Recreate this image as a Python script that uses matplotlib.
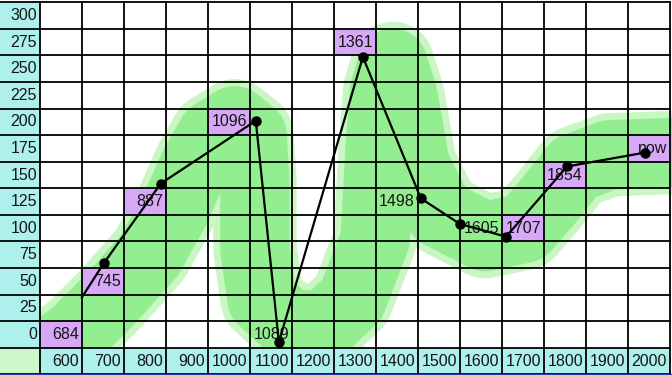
import matplotlib
matplotlib.use("Agg")
import matplotlib.pyplot as plt
from matplotlib import font_manager
from matplotlib.patches import Rectangle

# ---------------- data ----------------
x_labels = [600, 700, 800, 900, 1000, 1100, 1200, 1300, 1400, 1500, 1600, 1700, 1800, 1900, 2000]
y_labels = [0, 25, 50, 75, 100, 125, 150, 175, 200, 225, 250, 275, 300]

line_x = [650, 702, 838, 1064, 1119, 1319, 1457, 1550, 1660, 1805, 1990]
line_y = [35, 67, 142, 201, -7, 261, 128, 104, 92, 158, 171]
line_marked = [False, True, True, True, True, True, True, True, True, True, True]

cell_text = ['684', '745', '887', '1096', '1089', '1361', '1498', '1605', '1707', '1854', 'now']
cell_col = [600, 700, 800, 1000, 1100, 1300, 1400, 1600, 1700, 1800, 2000]
cell_row = [0, 50, 125, 200, 0, 275, 125, 100, 100, 150, 175]
cell_purple = [True, True, True, True, False, True, False, False, True, True, True]

band_x = [431, 526, 633, 717, 812, 871, 919, 960, 1014, 1055, 1062, 1062, 1079, 1145, 1229,
          1293, 1348, 1360, 1371, 1390, 1414, 1443, 1502, 1610, 1705, 1764, 1824, 1907, 2121]
band_y = [-61, -31, 0, 33, 75, 117, 160, 188, 201, 188, 145, 80, 33, 9, 9,
          33, 89, 174, 230, 255, 225, 160, 114, 92, 100, 127, 157, 169, 172]

# ---------------- style ----------------
names = {f.name for f in font_manager.fontManager.ttflist}
fam, fsize = 'Liberation Sans', 11.5
for cand, sz in [('Liberation Sans Narrow', 12.5), ('DejaVu Sans Condensed', 11.5)]:
    if cand in names:
        fam, fsize = cand, sz
        break
plt.rcParams['font.family'] = [fam, 'DejaVu Sans']

CYAN = '#adf0ec'
PURPLE = '#d6a8f5'
GREEN = '#92ee8e'
LGREEN = '#c9f6c3'
TXT = '#151515'

fig = plt.figure(figsize=(6.72, 3.75), dpi=100)
ax = fig.add_axes([0, 0, 1, 1])
ax.set_xlim(455, 2055)
ax.set_ylim(-38, 314.5)
ax.axis('off')

# green brush band
ax.plot(band_x, band_y, color=LGREEN, lw=60, solid_capstyle='round',
        solid_joinstyle='round', zorder=1)
ax.plot(band_x, band_y, color=GREEN, lw=50, solid_capstyle='round',
        solid_joinstyle='round', zorder=1.1)

# corner cell: band shows faintly
ax.add_patch(Rectangle((455, -37.5), 95, 25, facecolor='white', alpha=0.55,
                       edgecolor='none', zorder=1.5))

# label column / row cells
for v in y_labels:
    ax.add_patch(Rectangle((455, v - 12.5), 95, 25, facecolor=CYAN, edgecolor='none', zorder=2))
    ax.text(543, v, str(v), ha='right', va='center', fontsize=fsize, color=TXT, zorder=5)
for xv in x_labels:
    ax.add_patch(Rectangle((xv - 50, -37.5), 100, 25, facecolor=CYAN, edgecolor='none', zorder=2))
    ax.text(xv + 43, -25, str(xv), ha='right', va='center', fontsize=fsize, color=TXT, zorder=5)

# highlighted cells and cell labels
for t, c, r, p in zip(cell_text, cell_col, cell_row, cell_purple):
    if p:
        ax.add_patch(Rectangle((c - 50, r - 12.5), 100, 25, facecolor=PURPLE,
                               edgecolor='none', zorder=2))
    ax.text(c + 43, r, t, ha='right', va='center', fontsize=fsize, color=TXT, zorder=5)

# grid
for k in range(16):
    ax.plot([550 + 100 * k] * 2, [-37.5, 312.5], color='black', lw=1.3, zorder=3)
for k in range(15):
    ax.plot([455, 2050], [-37.5 + 25 * k] * 2, color='black', lw=1.3, zorder=3)
ax.plot([455, 2055], [-37.9, -37.9], color='#1f3f9f', lw=2.5, zorder=3)

# black line with markers
ax.plot(line_x, line_y, color='black', lw=1.6, zorder=6)
mx = [x for x, m in zip(line_x, line_marked) if m]
my = [y for y, m in zip(line_y, line_marked) if m]
ax.plot(mx, my, 'o', color='black', ms=6.5, zorder=7)

fig.savefig('out.png', dpi=100)
